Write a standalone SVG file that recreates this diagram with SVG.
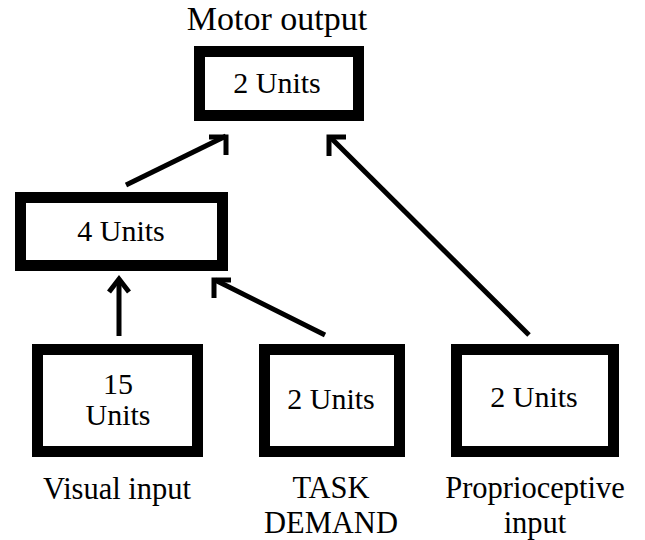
<svg xmlns="http://www.w3.org/2000/svg" width="645" height="540" viewBox="0 0 645 540">
<style>
.box{fill:#fff;stroke:#000;stroke-width:11}
text{font-family:'Liberation Serif','Times New Roman',serif;fill:#000;text-anchor:middle}
.u{font-size:30px}
.l{font-size:30.5px}
.c{fill:none;stroke:#000;stroke-width:5;stroke-linejoin:miter}
</style>
<rect width="645" height="540" fill="#fff"/>
<g id="connectors">
<line class="c" x1="126" y1="185" x2="226" y2="136"/>
<polyline class="c" points="209,137 226,137 226,155"/>
<line class="c" x1="119" y1="336" x2="119" y2="280"/>
<polyline class="c" points="109,292 119,279 129,292"/>
<line class="c" x1="325" y1="335" x2="215" y2="280"/>
<polyline class="c" points="231,280 214,280 214,298"/>
<line class="c" x1="529" y1="335" x2="330" y2="137"/>
<polyline class="c" points="346,137 329,137 329,156"/>
</g>
<g id="motor">
<text x="277" y="30" style="font-size:34px">Motor output</text>
<rect class="box" x="199.5" y="51.5" width="159" height="64"/>
<text class="u" x="277" y="93">2 Units</text>
</g>
<g id="hidden">
<rect class="box" x="20.5" y="197.5" width="202" height="68"/>
<text class="u" x="121" y="241">4 Units</text>
</g>
<g id="visual">
<rect class="box" x="37.5" y="349.5" width="160" height="102"/>
<text class="u" x="118" y="394">15</text>
<text class="u" x="118" y="425">Units</text>
<text class="l" x="117" y="499">Visual input</text>
</g>
<g id="task">
<rect class="box" x="264.5" y="349.5" width="135" height="102"/>
<text class="u" x="331" y="409">2 Units</text>
<text class="l" x="331" y="498">TASK</text>
<text class="l" x="331" y="533">DEMAND</text>
</g>
<g id="proprio">
<rect class="box" x="456.5" y="349.5" width="157" height="102"/>
<text class="u" x="534" y="407">2 Units</text>
<text class="l" x="535" y="498">Proprioceptive</text>
<text class="l" x="535" y="533">input</text>
</g>
</svg>
